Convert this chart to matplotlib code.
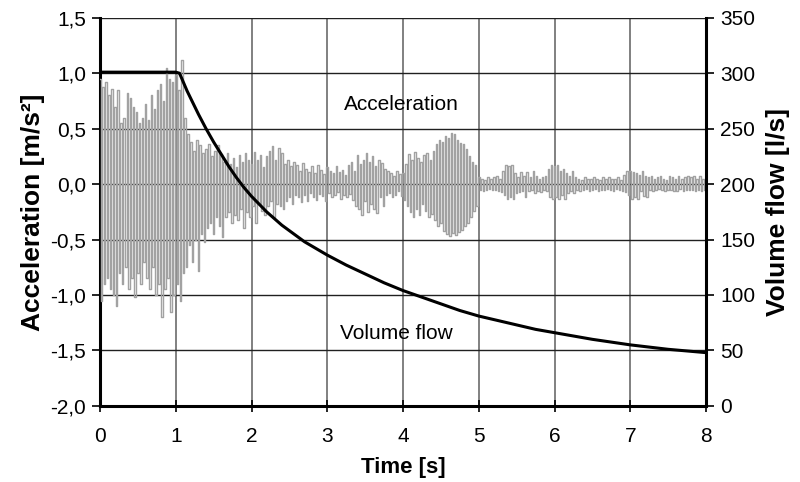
import matplotlib
matplotlib.use("Agg")
import matplotlib.pyplot as plt
from matplotlib.ticker import FuncFormatter
import numpy as np

plt.rcParams['font.family'] = ['Liberation Sans', 'DejaVu Sans']

# acceleration signal, one value every 0.02 s
acc_dt = 0.02
acc = [
    0.95, -1.05, 0.88, -0.90, 0.92, -0.85, 0.80, -0.95, 0.86, -1.00,
    0.70, -1.10, 0.85, -0.80, 0.55, -0.90, 0.60, -0.75, 0.82, -0.95,
    0.78, -0.85, 0.70, -1.02, 0.65, -0.80, 0.55, -0.90, 0.60, -0.70,
    0.72, -0.85, 0.58, -0.95, 0.80, -0.75, 0.68, -1.00, 0.85, -0.90,
    0.90, -1.20, 0.75, -0.95, 1.05, -0.85, 0.95, -1.15, 0.92, -1.00,
    0.98, -0.90, 0.85, -1.05, 1.12, -0.80, 0.60, -0.75, 0.45, -0.55,
    0.38, -0.70, 0.30, -0.50, 0.40, -0.78, 0.35, -0.45, 0.28, -0.52,
    0.32, -0.40, 0.36, -0.35, 0.25, -0.45, 0.30, -0.30, 0.35, -0.38,
    0.27, -0.48, 0.20, -0.30, 0.28, -0.25, 0.18, -0.35, 0.24, -0.28,
    0.15, -0.32, 0.26, -0.22, 0.20, -0.40, 0.28, -0.25, 0.22, -0.30,
    0.18, -0.20, 0.29, -0.35, 0.22, -0.18, 0.26, -0.24, 0.15, -0.28,
    0.25, -0.20, 0.30, -0.15, 0.34, -0.30, 0.22, -0.18, 0.33, -0.20,
    0.28, -0.22, 0.18, -0.15, 0.22, -0.12, 0.16, -0.18, 0.20, -0.10,
    0.17, -0.12, 0.12, -0.16, 0.19, -0.10, 0.14, -0.15, 0.11, -0.08,
    0.16, -0.12, 0.10, -0.14, 0.17, -0.09, 0.13, -0.11, 0.09, -0.15,
    0.15, -0.08, 0.12, -0.12, 0.10, -0.10, 0.16, -0.07, 0.11, -0.13,
    0.13, -0.10, 0.08, -0.12, 0.17, -0.09, 0.20, -0.14, 0.12, -0.20,
    0.26, -0.22, 0.18, -0.28, 0.22, -0.15, 0.28, -0.25, 0.20, -0.18,
    0.25, -0.22, 0.16, -0.26, 0.22, -0.12, 0.19, -0.20, 0.14, -0.10,
    0.12, -0.08, 0.10, -0.12, 0.07, -0.10, 0.12, -0.06, 0.09, -0.11,
    0.10, -0.14, 0.18, -0.20, 0.27, -0.25, 0.22, -0.30, 0.29, -0.22,
    0.24, -0.28, 0.20, -0.18, 0.26, -0.24, 0.28, -0.30, 0.22, -0.27,
    0.30, -0.32, 0.36, -0.38, 0.40, -0.35, 0.38, -0.42, 0.43, -0.45,
    0.42, -0.47, 0.46, -0.44, 0.45, -0.46, 0.40, -0.43, 0.37, -0.41,
    0.36, -0.38, 0.32, -0.35, 0.25, -0.30, 0.20, -0.24, 0.17, -0.20,
    0.06, -0.05, 0.05, -0.06, 0.04, -0.05, 0.06, -0.04, 0.05, -0.05,
    0.06, -0.05, 0.07, -0.06, 0.05, -0.07, 0.12, -0.10, 0.17, -0.13,
    0.16, -0.12, 0.17, -0.13, 0.10, -0.08, 0.06, -0.07, 0.11, -0.06,
    0.07, -0.12, 0.11, -0.06, 0.06, -0.05, 0.12, -0.08, 0.07, -0.06,
    0.05, -0.07, 0.06, -0.05, 0.07, -0.06, 0.14, -0.12, 0.17, -0.13,
    0.16, -0.12, 0.17, -0.13, 0.12, -0.10, 0.14, -0.13, 0.10, -0.08,
    0.07, -0.06, 0.12, -0.08, 0.06, -0.05, 0.05, -0.06, 0.04, -0.05,
    0.06, -0.04, 0.05, -0.06, 0.05, -0.05, 0.06, -0.04, 0.05, -0.06,
    0.04, -0.05, 0.06, -0.05, 0.05, -0.04, 0.06, -0.05, 0.05, -0.06,
    0.05, -0.04, 0.06, -0.05, 0.04, -0.06, 0.08, -0.07, 0.12, -0.10,
    0.12, -0.13, 0.11, -0.12, 0.10, -0.13, 0.08, -0.06, 0.12, -0.11,
    0.07, -0.12, 0.06, -0.05, 0.07, -0.06, 0.05, -0.05, 0.06, -0.04,
    0.07, -0.05, 0.05, -0.06, 0.04, -0.05, 0.07, -0.05, 0.06, -0.06,
    0.05, -0.06, 0.07, -0.04, 0.05, -0.06, 0.06, -0.05, 0.07, -0.05,
    0.06, -0.05, 0.07, -0.06, 0.05, -0.05, 0.07, -0.06, 0.05, -0.05,
    0.0,
]
acc_t = np.arange(len(acc)) * acc_dt

# volume flow [l/s]
flow_t = [0.0, 0.25, 0.5, 0.75, 1.0, 1.05, 1.1, 1.15, 1.2, 1.3, 1.4, 1.5,
          1.6, 1.7, 1.8, 1.9, 2.0, 2.1, 2.2, 2.3, 2.4, 2.5, 2.6, 2.7, 2.8,
          2.9, 3.0, 3.25, 3.5, 3.75, 4.0, 4.25, 4.5, 4.75, 5.0, 5.25, 5.5,
          5.75, 6.0, 6.5, 7.0, 7.5, 8.0]
flow = [301, 301, 301, 301, 301, 300, 292, 284, 277, 263, 250, 238,
        227, 216, 206, 197, 189, 182, 175, 169, 163, 158, 153, 148, 144,
        140, 136, 127, 119, 111, 104, 98, 92, 86, 81, 77, 73,
        69, 66, 60, 55, 51, 48]

fig = plt.figure(figsize=(8, 4.82), dpi=100)
ax = fig.add_axes([0.125, 0.158, 0.7575, 0.805])
ax2 = ax.twinx()

ax.plot(acc_t, acc, color='#a2a2a2', lw=1.0, drawstyle='steps-mid', zorder=3)
ax2.plot(flow_t, flow, color='black', lw=2.2, zorder=4)

ax.set_xlim(0, 8)
ax.set_ylim(-2.0, 1.5)
ax2.set_ylim(0, 350)
ax.set_xticks(range(0, 9))
ax.set_yticks(np.arange(-2.0, 1.51, 0.5))
ax2.set_yticks(range(0, 351, 50))
ax.yaxis.set_major_formatter(FuncFormatter(lambda v, p: f"{v:.1f}".replace('.', ',')))

ax.grid(axis='y', color='#202020', lw=1.0, zorder=1)
ax.grid(axis='x', color='#808080', lw=1.4, zorder=1)
ax.set_axisbelow(True)

for a in (ax, ax2):
    a.spines['top'].set_visible(False)
    for s in ('left', 'right', 'bottom'):
        a.spines[s].set_linewidth(2.2)
ax.spines['right'].set_visible(False)
ax2.spines['left'].set_visible(False)
ax2.spines['bottom'].set_visible(False)

ax.tick_params(axis='x', direction='inout', length=8, width=1.2, labelsize=15, pad=11)
ax.tick_params(axis='y', direction='out', length=6, width=1.2, labelsize=15, pad=4)
ax2.tick_params(axis='y', direction='out', length=6, width=1.2, labelsize=15, pad=4)

ax.set_xlabel('Time [s]', fontsize=16, fontweight='bold', labelpad=8)
ax.set_ylabel('Acceleration [m/s²]', fontsize=19, fontweight='bold', labelpad=4)
ax2.set_ylabel('Volume flow [l/s]', fontsize=19, fontweight='bold', labelpad=8)

ax.text(3.22, 0.72, 'Acceleration', fontsize=15, va='center', ha='left', zorder=5)
ax.text(3.17, -1.35, 'Volume flow', fontsize=15, va='center', ha='left', zorder=5)

fig.savefig('out.png', dpi=100)
